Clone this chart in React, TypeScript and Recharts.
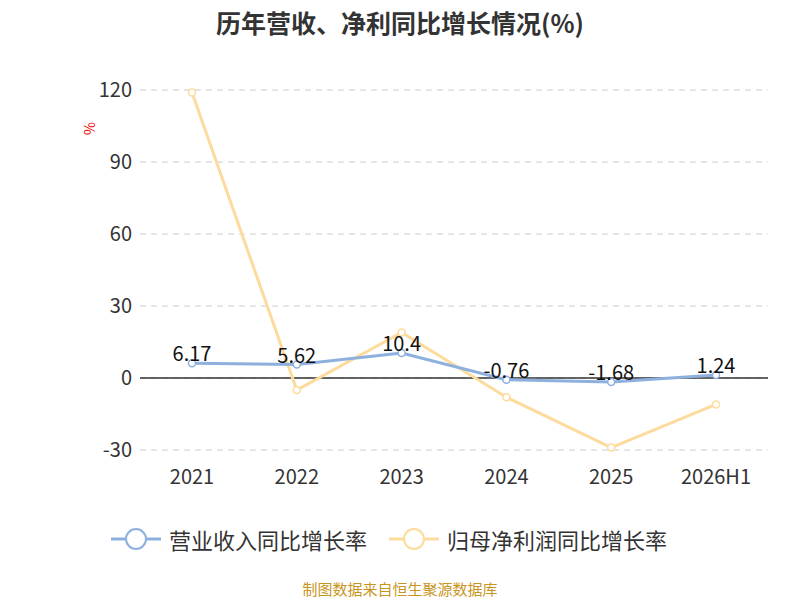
import React from "react";
import {
  LineChart,
  Line,
  XAxis,
  YAxis,
  CartesianGrid,
  ReferenceLine,
  LabelList,
} from "recharts";

const years = ["2021", "2022", "2023", "2024", "2025", "2026H1"];
const revenueGrowth = [6.17, 5.62, 10.4, -0.76, -1.68, 1.24];
const profitGrowth = [119, -5, 19, -8, -29, -11];
const yTicks = [-30, 0, 30, 60, 90, 120];

const data = years.map((y, i) => ({
  year: y,
  revenue: revenueGrowth[i],
  profit: profitGrowth[i],
}));

const BLUE = "#8eb0de";
const YELLOW = "#fddb9c";

function LegendItem({ color, text }: { color: string; text: string }) {
  return (
    <div style={{ display: "flex", alignItems: "center", marginRight: 22 }}>
      <svg width={50} height={26}>
        <line x1={0} y1={13} x2={50} y2={13} stroke={color} strokeWidth={3} />
        <circle cx={25} cy={13} r={10} fill="#fff" stroke={color} strokeWidth={2} />
      </svg>
      <span style={{ fontSize: 22, color: "#333", marginLeft: 8 }}>{text}</span>
    </div>
  );
}

export default function App() {
  return (
    <div
      style={{
        position: "absolute",
        left: 0,
        top: 0,
        width: 800,
        height: 600,
        background: "#fff",
        fontFamily: "'Noto Sans CJK SC', 'Noto Sans', sans-serif",
      }}
    >
      <div
        style={{
          position: "absolute",
          top: 4,
          width: 800,
          textAlign: "center",
          fontSize: 25,
          fontWeight: "bold",
          color: "#333",
        }}
      >
        历年营收、净利同比增长情况(%)
      </div>
      <LineChart
        width={800}
        height={600}
        data={data}
        margin={{ top: 90, right: 32, left: 80, bottom: 120 }}
      >
        <CartesianGrid vertical={false} stroke="#ccc" strokeDasharray="6 5" />
        <XAxis
          dataKey="year"
          axisLine={false}
          tickLine={false}
          padding={{ left: 52, right: 52 }}
          tick={{ fontSize: 20, fill: "#333" }}
          tickMargin={14}
        />
        <YAxis
          domain={[-30, 120]}
          ticks={yTicks}
          axisLine={false}
          tickLine={false}
          width={60}
          tick={{ fontSize: 20, fill: "#333" }}
          label={{ value: "%", angle: -90, position: "insideTopLeft", dx: 0, dy: 40, fill: "#e00", fontSize: 14 }}
        />
        <ReferenceLine y={0} stroke="#333" strokeWidth={1.5} />
        <Line
          dataKey="profit"
          stroke={YELLOW}
          strokeWidth={3}
          dot={{ r: 3.5, fill: "#fff", stroke: YELLOW, strokeWidth: 1.5 }}
          isAnimationActive={false}
        />
        <Line
          dataKey="revenue"
          stroke={BLUE}
          strokeWidth={3}
          dot={{ r: 3.5, fill: "#fff", stroke: BLUE, strokeWidth: 1.5 }}
          isAnimationActive={false}
        >
          <LabelList dataKey="revenue" position="top" offset={2} fill="#111" fontSize={20} />
        </Line>
      </LineChart>
      <div
        style={{
          position: "absolute",
          top: 523,
          width: 800,
          display: "flex",
          justifyContent: "center",
        }}
      >
        <LegendItem color={BLUE} text="营业收入同比增长率" />
        <LegendItem color={YELLOW} text="归母净利润同比增长率" />
      </div>
      <div
        style={{
          position: "absolute",
          top: 578,
          width: 800,
          textAlign: "center",
          fontSize: 15,
          color: "#c8961e",
        }}
      >
        制图数据来自恒生聚源数据库
      </div>
    </div>
  );
}
